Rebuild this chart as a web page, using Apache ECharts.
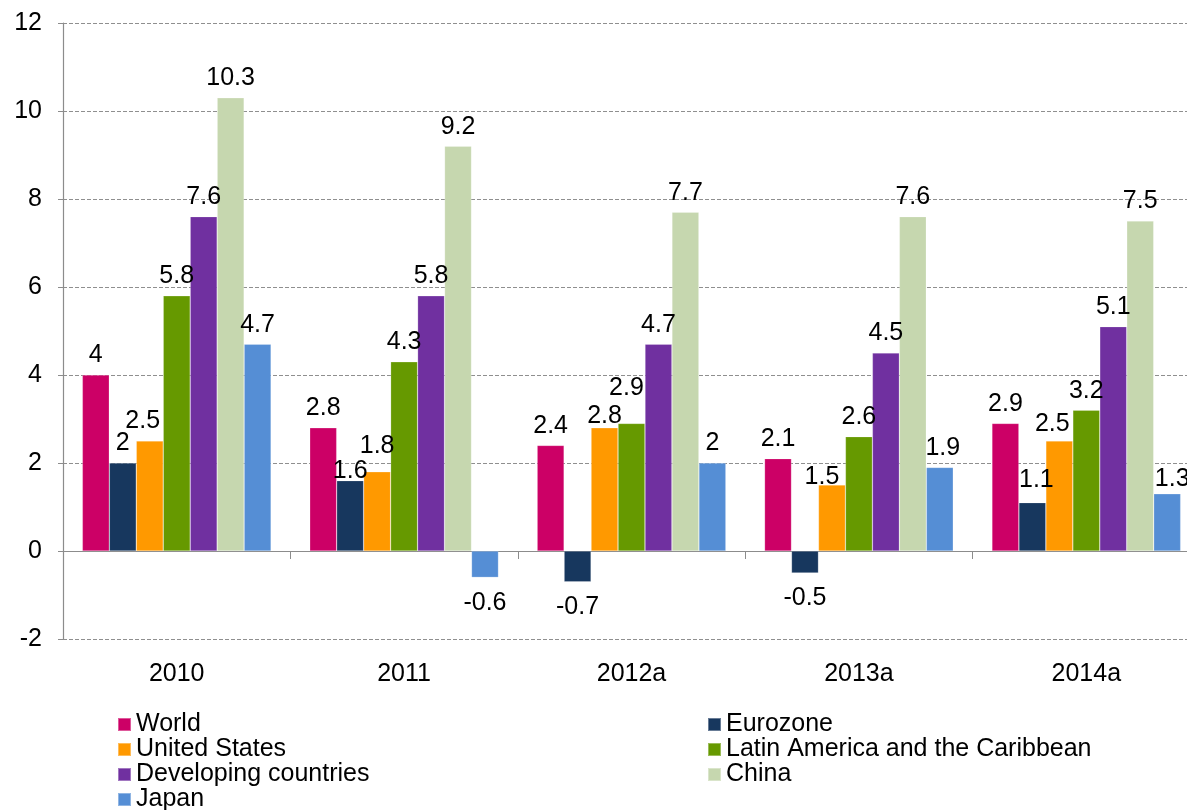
<!DOCTYPE html>
<html>
<head>
<meta charset="utf-8">
<title>GDP growth by region</title>
<script src="https://cdn.jsdelivr.net/npm/echarts@6/dist/echarts.min.js"></script>
<style>
  html, body { margin: 0; padding: 0; background: #ffffff; }
  #chart { width: 1187px; height: 810px; }
</style>
</head>
<body>
<div id="chart"></div>
<script>
// Categories (years; "a" marks estimates)
const years = ['2010', '2011', '2012a', '2013a', '2014a'];

// Growth rates, %
const world      = [4, 2.8, 2.4, 2.1, 2.9];
const eurozone   = [2, 1.6, -0.7, -0.5, 1.1];
const us         = [2.5, 1.8, 2.8, 1.5, 2.5];
const latam      = [5.8, 4.3, 2.9, 2.6, 3.2];
const developing = [7.6, 5.8, 4.7, 4.5, 5.1];
const china      = [10.3, 9.2, 7.7, 7.6, 7.5];
const japan      = [4.7, -0.6, 2, 1.9, 1.3];

// Y-axis range and step
const yMin = -2, yMax = 12, yStep = 2;

const seriesDefs = [
  { name: 'World', data: world, color: '#CC0066' },
  { name: 'Eurozone', data: eurozone, color: '#17375E' },
  { name: 'United States', data: us, color: '#FF9900' },
  { name: 'Latin America and the Caribbean', data: latam, color: '#669900' },
  { name: 'Developing countries', data: developing, color: '#7030A0' },
  { name: 'China', data: china, color: '#C6D7AF' },
  { name: 'Japan', data: japan, color: '#558ED5' }
];

// Small nudges for crowded value labels: "series|index" -> [dx, dy]
const labelNudge = {
  'United States|0': [-7, 0],
  'Eurozone|1': [0, 10],
  'United States|1': [0, -6],
  'Latin America and the Caribbean|2': [-5, -16],
  'United States|2': [0, 8],
  'United States|3': [-10, 12],
  'Japan|3': [3, 0],
  'Eurozone|4': [4, -3],
  'United States|4': [-7, 3],
  'Japan|4': [5, 5]
};

const FONT = '"Liberation Sans", Arial, sans-serif';

const series = seriesDefs.map(def => ({
  name: def.name,
  type: 'bar',
  xAxisIndex: 0,
  barGap: '0%',
  barCategoryGap: '17%',
  itemStyle: { color: def.color, borderColor: 'rgba(255,255,255,0.35)', borderWidth: 0.6 },
  data: def.data.map((v, i) => {
    const nudge = labelNudge[def.name + '|' + i] || [0, 0];
    return {
      value: v,
      label: {
        position: v < 0 ? 'bottom' : 'top',
        distance: v < 0 ? 13 : 7,
        offset: nudge
      }
    };
  }),
  label: {
    show: true,
    color: '#000',
    fontSize: 25,
    fontFamily: FONT
  }
}));

const legendText = { fontSize: 25, fontFamily: FONT, color: '#000', lineHeight: 25 };

const option = {
  backgroundColor: '#ffffff',
  animation: false,
  grid: { left: 63, top: 23, width: 1137, height: 616, containLabel: false, outerBoundsMode: 'none' },
  legend: [
    {
      data: ['World', 'United States', 'Developing countries', 'Japan'],
      orient: 'vertical',
      left: 117, top: 712, height: 130,
      itemWidth: 13, itemHeight: 13, itemGap: 0,
      icon: 'rect',
      textStyle: legendText,
      padding: 0
    },
    {
      data: ['Eurozone', 'Latin America and the Caribbean', 'China'],
      orient: 'vertical',
      left: 707, top: 712, height: 130,
      itemWidth: 13, itemHeight: 13, itemGap: 0,
      icon: 'rect',
      textStyle: legendText,
      padding: 0
    }
  ],
  xAxis: [
    {
      // Zero baseline with boundary ticks
      type: 'category',
      data: years,
      position: 'top',
      axisLine: { onZero: true, lineStyle: { color: '#8c8c8c', width: 1.2 } },
      axisTick: { show: true, inside: true, length: 8, lineStyle: { color: '#8c8c8c' } },
      axisLabel: { show: false },
      splitLine: { show: false }
    },
    {
      // Category labels along the bottom
      type: 'category',
      data: years,
      position: 'bottom',
      axisLine: { show: false, onZero: false },
      axisTick: { show: false },
      axisLabel: { show: true, color: '#000', fontSize: 25, fontFamily: FONT, margin: 23 },
      splitLine: { show: false }
    }
  ],
  yAxis: {
    type: 'value',
    min: yMin, max: yMax, interval: yStep,
    axisLine: { show: true, lineStyle: { color: '#8c8c8c', width: 1.2 } },
    axisTick: { show: true, length: 5, lineStyle: { color: '#8c8c8c' } },
    axisLabel: { color: '#000', fontSize: 25, fontFamily: FONT, margin: 21 },
    splitLine: { show: true, lineStyle: { color: '#8f8f8f', type: [4, 2], width: 1 } }
  },
  series: series
};

const chart = echarts.init(document.getElementById('chart'), null, { renderer: 'canvas' });
chart.setOption(option);
</script>
</body>
</html>
